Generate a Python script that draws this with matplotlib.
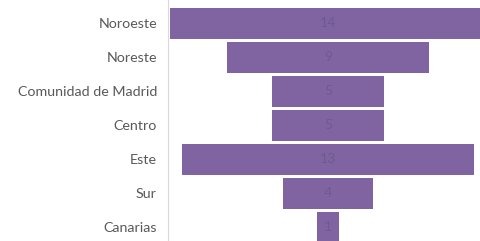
import matplotlib.pyplot as plt
import numpy as np

regiones = ['Noroeste', 'Noreste', 'Comunidad de Madrid', 'Centro', 'Este', 'Sur', 'Canarias']
valores = [14, 9, 5, 5, 13, 4, 1]

plt.rcParams['font.family'] = ['Lato', 'DejaVu Sans']

fig = plt.figure(figsize=(4.81, 2.41), dpi=100)
ax = fig.add_axes([168 / 481, 0, 1 - 168 / 481, 1])

y = np.arange(len(valores))
v = np.array(valores)
ax.barh(y, v, left=-v / 2, height=0.9, color='#8064a2')
for i, val in enumerate(valores):
    ax.text(0, i, str(val), ha='center', va='center', fontsize=10, color='#6e5b8e')

ax.set_xlim(-7.1, 6.8)
ax.set_ylim(6.4, -0.69)
ax.set_yticks(y)
ax.set_yticklabels(regiones, fontsize=10.3, color='#595959')
ax.tick_params(axis='y', length=0, pad=8)
ax.set_xticks([])
for s in ['top', 'right', 'bottom']:
    ax.spines[s].set_visible(False)
ax.spines['left'].set_color('#d9d9d9')

fig.savefig('out.png', dpi=100)
